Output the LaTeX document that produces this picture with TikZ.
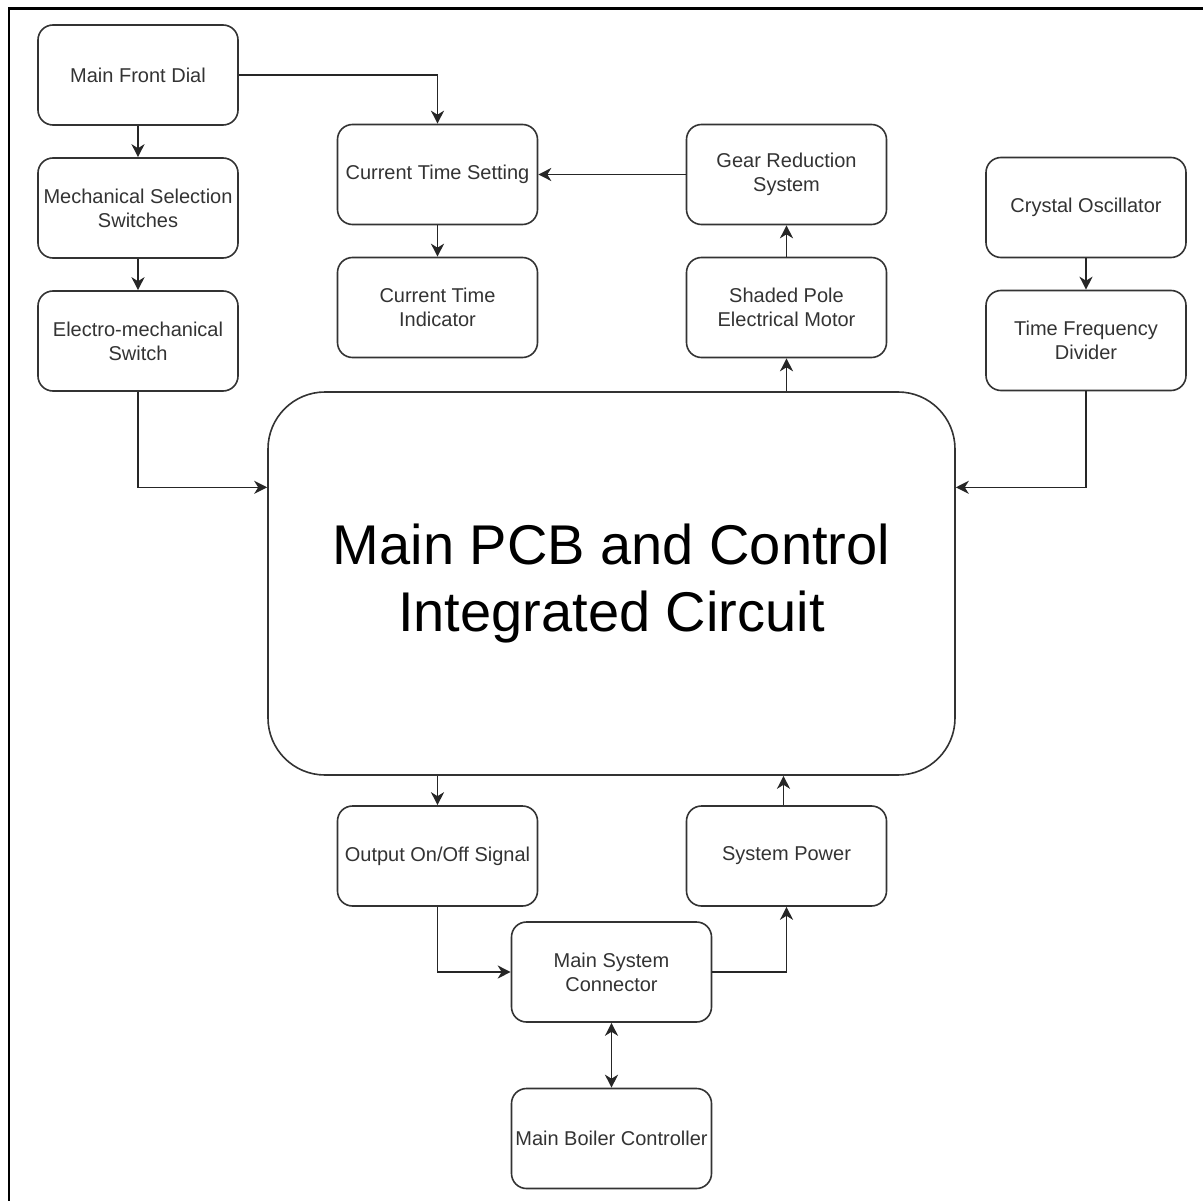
\documentclass[tikz,border=0pt]{standalone}
\usepackage{fontspec}
\setmainfont{Liberation Sans}
\usetikzlibrary{arrows.meta,calc}
\begin{document}
\begin{tikzpicture}[x=1pt,y=-1pt,
  box/.style={draw=black!80, line width=1.6pt, rounded corners=15pt,
    minimum width=200pt, minimum height=100pt, align=center, inner sep=0pt,
    text=black!80, font=\fontsize{20}{24}\selectfont},
  bigbox/.style={draw=black!80, line width=1.6pt, rounded corners=57pt,
    minimum width=687pt, minimum height=383pt, align=center, inner sep=0pt,
    text=black, font=\fontsize{56}{67}\selectfont},
  arr/.style={draw=black!85, line width=1.6pt, -{Stealth[length=13pt,width=13pt,inset=4pt]}},
  arrtwo/.style={draw=black!85, line width=1.6pt, {Stealth[length=13pt,width=13pt,inset=4pt]}-{Stealth[length=13pt,width=13pt,inset=4pt]}}
]
\useasboundingbox (0,0) rectangle (1203,1201);
\draw[line width=2.5pt] (9,1201) -- (9,8.5) -- (1203,8.5);

\node[box] (mfd) at (138,75) {Main Front Dial};
\node[box] (mss) at (138,208) {Mechanical Selection\\Switches};
\node[box] (ems) at (138,341) {Electro-mechanical\\Switch};
\node[box] (cts) at (437.5,174.5) {Current Time Setting};
\node[box] (cti) at (437.5,307.5) {Current Time\\Indicator};
\node[box] (grs) at (786.5,174.5) {Gear Reduction\\System};
\node[box] (sp) at (786.5,307.5) {Shaded Pole\\Electrical Motor};
\node[box] (co) at (1086,207.5) {Crystal Oscillator};
\node[box] (tfd) at (1086,340.5) {Time Frequency\\Divider};
\node[bigbox] (pcb) at (611.5,583.5) {Main PCB and Control\\Integrated Circuit};
\node[box] (out) at (437.5,856) {Output On/Off Signal};
\node[box] (sys) at (786.5,856) {System Power};
\node[box] (msc) at (611.5,972) {Main System\\Connector};
\node[box] (mbc) at (611.5,1138.5) {Main Boiler Controller};

\draw[arr] (mfd.east) -| (cts.north);
\draw[arr] (mfd) -- (mss);
\draw[arr] (mss) -- (ems);
\draw[arr] (ems.south) |- ($(pcb.north west)!0.25!(pcb.south west)$);
\draw[arr] (grs) -- (cts);
\draw[arr] (cts) -- (cti);
\draw[arr] (pcb.north -| sp.south) -- (sp.south);
\draw[arr] (sp) -- (grs);
\draw[arr] (co) -- (tfd);
\draw[arr] (tfd.south) |- ($(pcb.north east)!0.25!(pcb.south east)$);
\draw[arr] (pcb.south -| out.north) -- (out.north);
\draw[arr] (out.south) |- (msc.west);
\draw[arr] (msc.east) -| (sys.south);
\draw[arr] ([xshift=-3pt]sys.north) -- ([xshift=-3pt]pcb.south -| sys.north);
\draw[arrtwo] (msc) -- (mbc);
\end{tikzpicture}
\end{document}
